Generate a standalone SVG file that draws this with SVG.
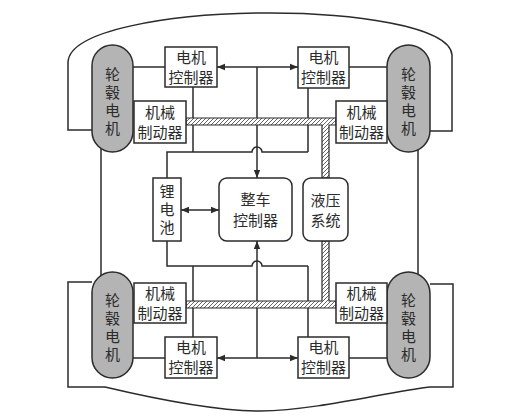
<svg xmlns="http://www.w3.org/2000/svg" width="514" height="416" viewBox="0 0 514 416">
<defs>
<style>
.ln{fill:none;stroke:#2b2b2b;stroke-width:1.5}
.box{fill:#fff;stroke:#2b2b2b;stroke-width:1.5}
.cap{fill:#b4b4b4;stroke:#2b2b2b;stroke-width:1.5}
.bar{fill:url(#hatch);stroke:#2b2b2b;stroke-width:1.2}
text{font-family:"Noto Sans CJK SC","Noto Sans CJK JP",sans-serif;font-size:15px;fill:#2b2b2b;text-anchor:middle}
.vt{writing-mode:vertical-rl;letter-spacing:3px}
</style>
<pattern id="hatch" patternUnits="userSpaceOnUse" width="4" height="4">
<rect width="4" height="4" fill="#fff"/>
<path d="M0,4 L4,0 M-1,1 L1,-1 M3,5 L5,3" stroke="#555" stroke-width="0.9"/>
</pattern>
<marker id="ah" viewBox="0 0 10 10" refX="10" refY="5" markerWidth="8" markerHeight="8" markerUnits="userSpaceOnUse" orient="auto-start-reverse">
<path d="M0,1 L10,5 L0,9 Z" fill="#2b2b2b"/>
</marker>
</defs>
<rect width="514" height="416" fill="#fff"/>
<g id="connectors">
<path class="ln" d="M92,130 H68 V62 C70,30 170,14 260,13 C350,12 450,26 452,55 V131 H430"/>
<path class="ln" d="M92,282 H68 V387 H105 C160,400 215,411 260,411 C320,410 385,392 430,387 H453 V284 H430"/>
<line class="ln" x1="101" y1="148" x2="101" y2="276"/>
<line class="ln" x1="418" y1="148" x2="418" y2="276"/>
<line class="ln" x1="133" y1="67" x2="165" y2="67"/>
<line class="ln" x1="349" y1="67" x2="387" y2="67"/>
<line class="ln" x1="133" y1="358" x2="165" y2="358"/>
<line class="ln" x1="349" y1="358" x2="387" y2="358"/>
<line class="ln" x1="217" y1="67" x2="298" y2="67" marker-start="url(#ah)" marker-end="url(#ah)"/>
<line class="ln" x1="257" y1="67" x2="257" y2="178" marker-end="url(#ah)"/>
<path class="ln" d="M193,87 V152 M308,88 V152 M167,178 V152 H252 A5,5 0 0 1 262,152 H308"/>
<line class="ln" x1="217" y1="358" x2="298" y2="358" marker-start="url(#ah)" marker-end="url(#ah)"/>
<line class="ln" x1="257" y1="358" x2="257" y2="241" marker-end="url(#ah)"/>
<path class="ln" d="M193,337 V266 M308,337 V266 M167,241 V266 H252 A5,5 0 0 1 262,266 H308"/>
<line class="ln" x1="181" y1="210" x2="219" y2="210" marker-start="url(#ah)" marker-end="url(#ah)"/>
<path class="bar" d="M186,118 H336 V125 H329 V178 H322 V125 H186 Z"/>
<path class="bar" d="M186,301 H322 V241 H329 V301 H336 V308 H186 Z"/>
</g>
<g id="motor-tl"><rect class="cap" x="92" y="45" width="41" height="107" rx="20.5"/><text class="vt" x="112.5" y="103">轮毂电机</text></g>
<g id="motor-tr"><rect class="cap" x="387" y="45" width="43" height="107" rx="21.5"/><text class="vt" x="408.5" y="103">轮毂电机</text></g>
<g id="motor-bl"><rect class="cap" x="92" y="272" width="41" height="106" rx="20.5"/><text class="vt" x="112.5" y="329">轮毂电机</text></g>
<g id="motor-br"><rect class="cap" x="387" y="272" width="43" height="106" rx="21.5"/><text class="vt" x="408.5" y="329">轮毂电机</text></g>
<g id="ctrl-tl"><rect class="box" x="165" y="47" width="52" height="40"/><text x="191" y="63">电机</text><text x="191" y="83">控制器</text></g>
<g id="ctrl-tr"><rect class="box" x="298" y="47" width="51" height="41"/><text x="323.5" y="63">电机</text><text x="323.5" y="83">控制器</text></g>
<g id="ctrl-bl"><rect class="box" x="165" y="337" width="52" height="41"/><text x="191" y="353">电机</text><text x="191" y="373">控制器</text></g>
<g id="ctrl-br"><rect class="box" x="298" y="337" width="51" height="41"/><text x="323.5" y="353">电机</text><text x="323.5" y="373">控制器</text></g>
<g id="brake-tl"><rect class="box" x="134" y="101" width="52" height="42"/><text x="160" y="118">机械</text><text x="160" y="138">制动器</text></g>
<g id="brake-tr"><rect class="box" x="336" y="101" width="51" height="42"/><text x="361.5" y="118">机械</text><text x="361.5" y="138">制动器</text></g>
<g id="brake-bl"><rect class="box" x="134" y="283" width="52" height="40"/><text x="160" y="299">机械</text><text x="160" y="319">制动器</text></g>
<g id="brake-br"><rect class="box" x="336" y="283" width="51" height="40"/><text x="361.5" y="299">机械</text><text x="361.5" y="319">制动器</text></g>
<g id="battery"><rect class="box" x="153" y="178" width="28" height="63"/><text class="vt" x="167" y="211">锂电池</text></g>
<g id="vcu"><rect class="box" x="219" y="178" width="73" height="63" rx="8"/><text x="255.5" y="205">整车</text><text x="255.5" y="226">控制器</text></g>
<g id="hydraulic"><rect class="box" x="303" y="178" width="45" height="63" rx="8"/><text x="325.5" y="206">液压</text><text x="325.5" y="226">系统</text></g>
</svg>
